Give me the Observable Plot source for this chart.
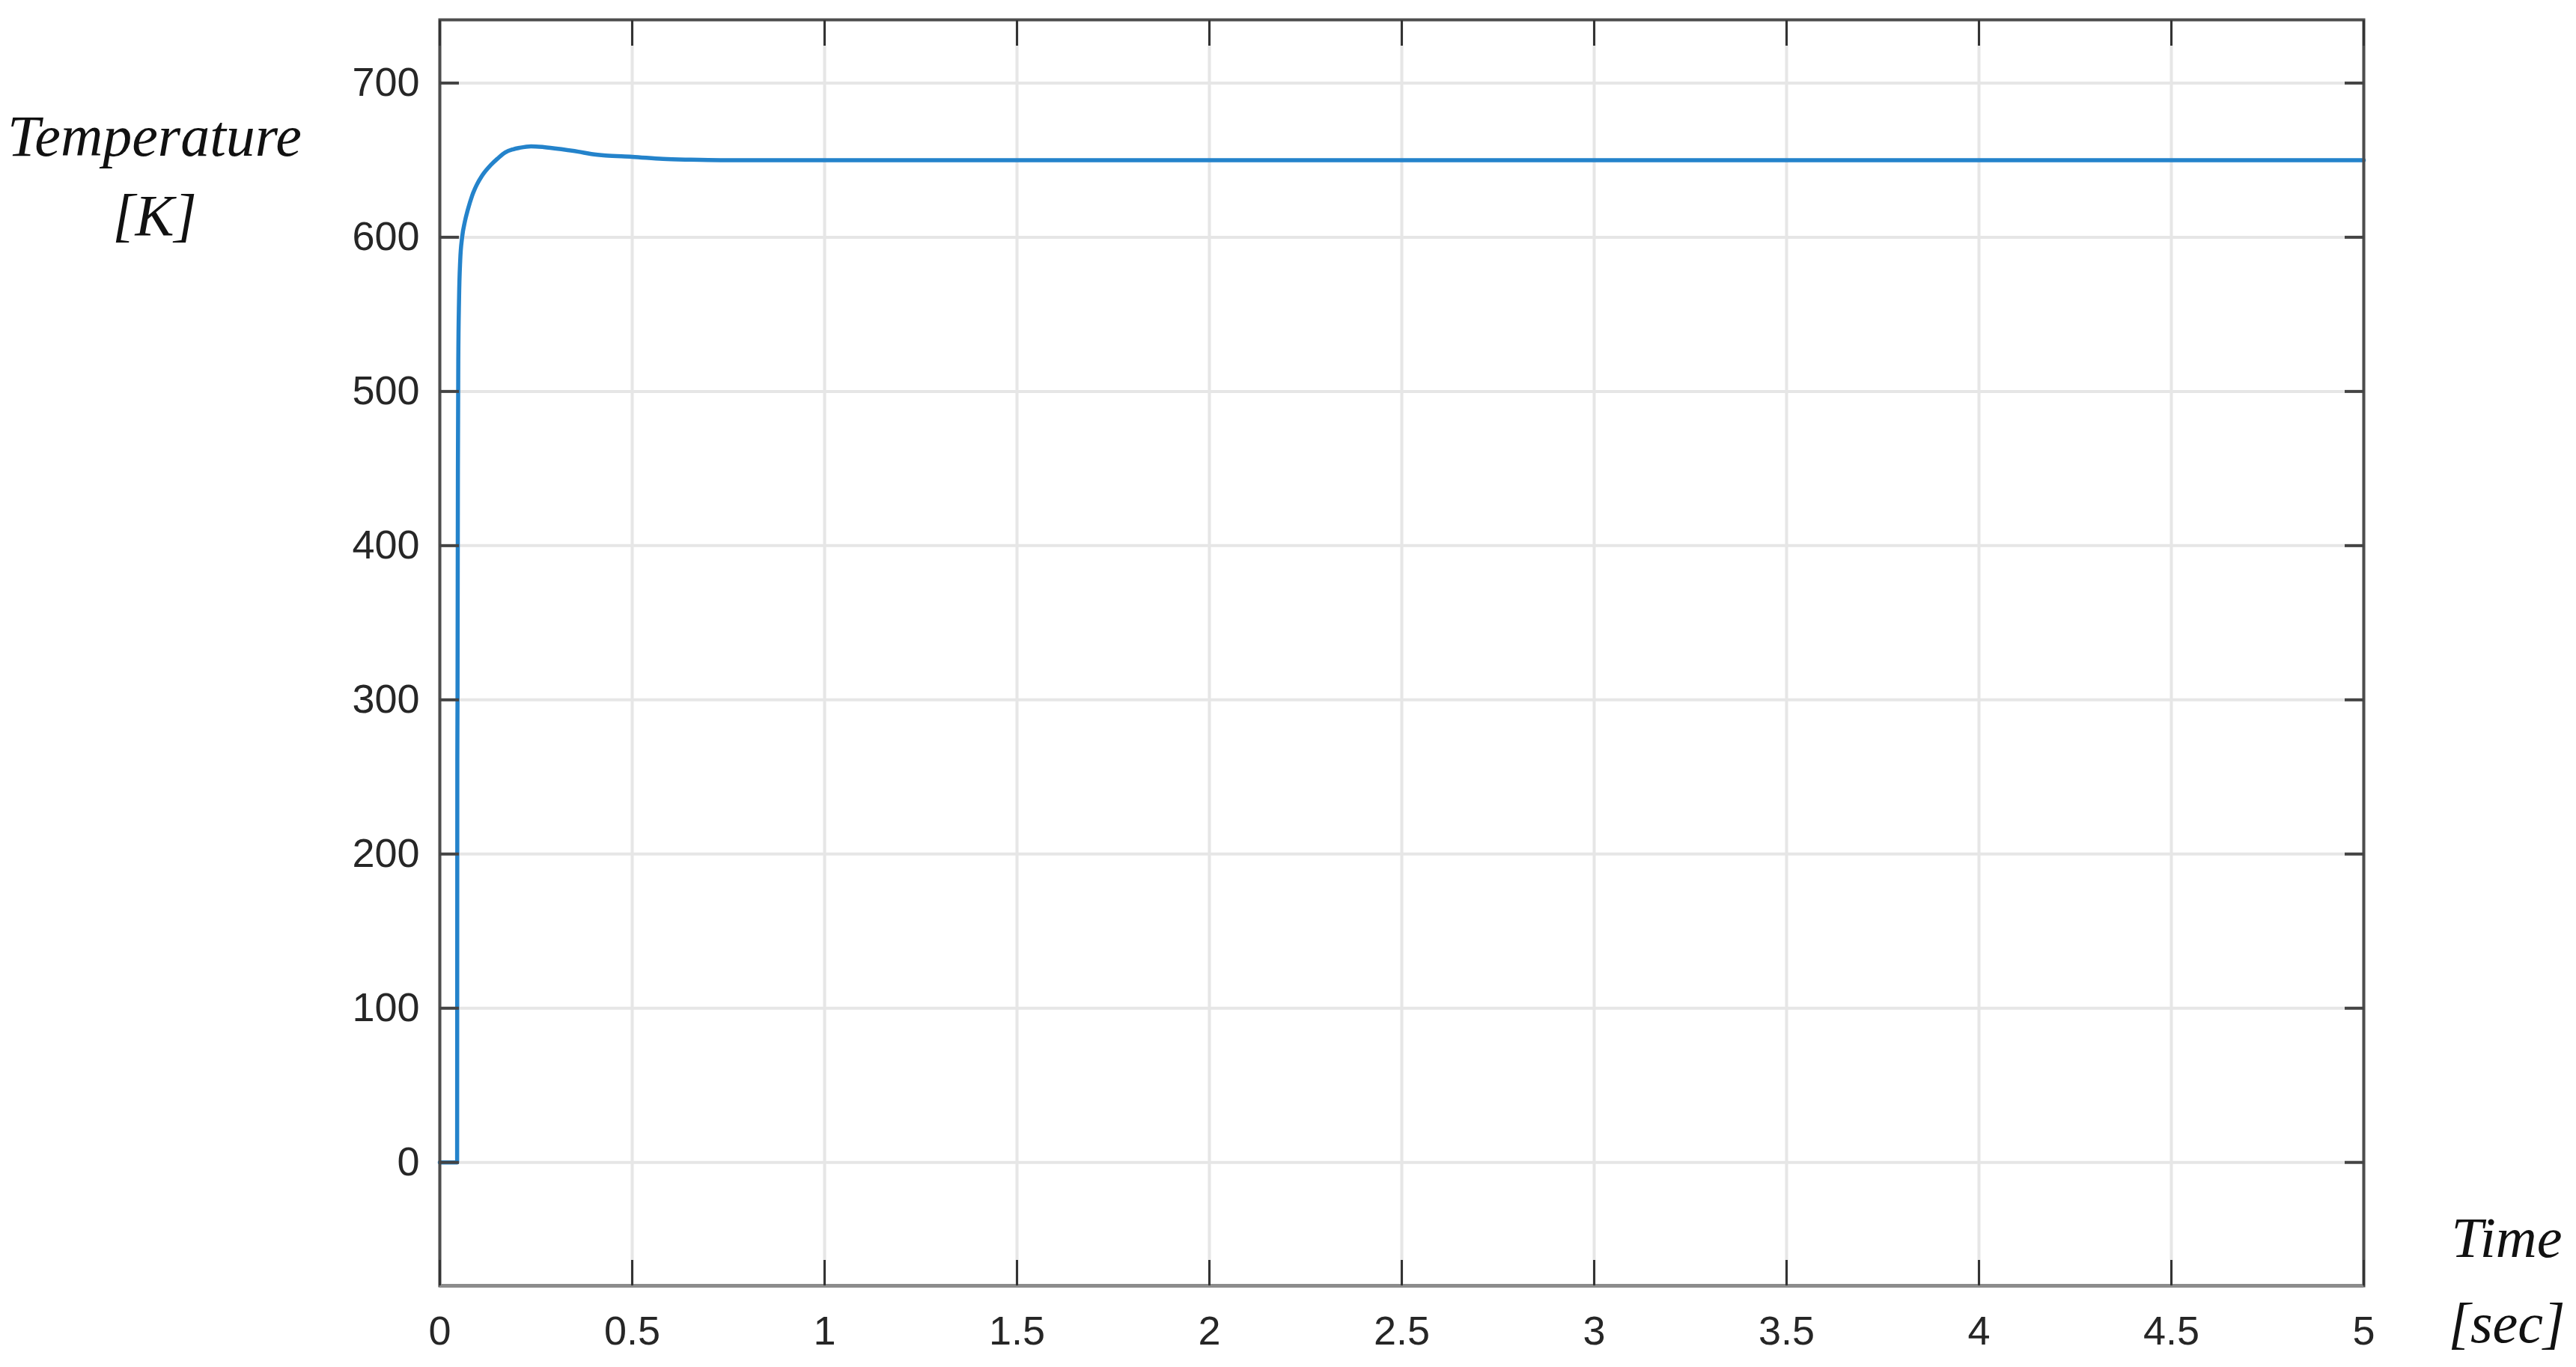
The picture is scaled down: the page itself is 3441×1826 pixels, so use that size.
<!DOCTYPE html>
<html><head><meta charset="utf-8">
<script src="https://cdn.jsdelivr.net/npm/d3@7"></script>
<script src="https://cdn.jsdelivr.net/npm/@observablehq/plot@0.6"></script>
<style>html,body{margin:0;padding:0;background:#fff;overflow:hidden;}</style>
</head><body><div id="chart"></div>
<script>
const timeSec = [0, 0.045, 0.0455, 0.046, 0.047, 0.048, 0.05, 0.053, 0.058, 0.065, 0.073, 0.084, 0.096, 0.11, 0.133, 0.15, 0.17, 0.19, 0.207, 0.237, 0.27, 0.319, 0.36, 0.394, 0.431, 0.5, 0.58, 0.65, 0.73, 0.9, 1.5, 2, 3, 4, 5];
const temperatureK = [0, 0, 260, 300, 450, 520, 560, 585, 600, 610, 618, 627, 634, 640, 647, 651, 655, 657, 658, 659, 658.5, 657, 655.5, 654, 653, 652.2, 650.8, 650.3, 650, 650, 650, 650, 650, 650, 650];
const xTicks = [0, 0.5, 1, 1.5, 2, 2.5, 3, 3.5, 4, 4.5, 5];
const yTicks = [0, 100, 200, 300, 400, 500, 600, 700];
const xDomain = [0, 5];
const yDomain = [-80, 741];
const yLabel = ["Temperature\n[K]"];
const xLabel = ["Time\n[sec]"];

const data = timeSec.map((t, i) => ({t, T: temperatureK[i]}));
const blank = () => "";
const plain = d => String(d);
const serif = "'Liberation Serif', 'DejaVu Serif', serif";

const chart = Plot.plot({
  width: 3441, height: 1826,
  marginLeft: 587, marginRight: 284, marginTop: 26, marginBottom: 109,
  style: {background: "#fff", fontFamily: "'Liberation Sans', Arial, sans-serif", color: "#262626"},
  x: {domain: xDomain},
  y: {domain: yDomain},
  marks: [
    Plot.gridX(xTicks, {stroke: "#e6e6e6", strokeOpacity: 1, strokeWidth: 4}),
    Plot.gridY(yTicks, {stroke: "#e6e6e6", strokeOpacity: 1, strokeWidth: 4}),
    Plot.line(data, {x: "t", y: "T", curve: "monotone-x", stroke: "#2483cb", strokeWidth: 5.5}),
    Plot.frame({stroke: "#4d4d4d", strokeWidth: 4}),
    Plot.ruleY([yDomain[0]], {stroke: "#8c8c8c", strokeWidth: 5}),
    Plot.axisX(xTicks, {anchor: "bottom", tickSize: -34, tickFormat: blank, label: null, stroke: "#333", strokeWidth: 3}),
    Plot.axisX(xTicks, {anchor: "top", tickSize: -34, tickFormat: blank, label: null, stroke: "#333", strokeWidth: 3}),
    Plot.axisY(yTicks, {anchor: "left", tickSize: -26, tickFormat: blank, label: null, stroke: "#444", strokeWidth: 4}),
    Plot.axisY(yTicks, {anchor: "right", tickSize: -26, tickFormat: blank, label: null, stroke: "#444", strokeWidth: 4}),
    Plot.axisX(xTicks, {anchor: "bottom", tickSize: 0, tickPadding: 40, fontSize: 54, label: null, fill: "#262626", tickFormat: plain}),
    Plot.axisY(yTicks, {anchor: "left", tickSize: 0, tickPadding: 27, fontSize: 54, label: null, fill: "#262626", tickFormat: plain}),
    Plot.text(yLabel, {text: d => d, frameAnchor: "top-left", dx: -381, dy: 287, lineAnchor: "bottom", lineHeight: 1.35, textAnchor: "middle", fontSize: 78, fontStyle: "italic", fontFamily: serif, fill: "#111"}),
    Plot.text(xLabel, {text: d => d, frameAnchor: "bottom-right", dx: 191, dy: 75, lineAnchor: "bottom", lineHeight: 1.5, textAnchor: "middle", fontSize: 76, fontStyle: "italic", fontFamily: serif, fill: "#111"})
  ]
});
document.getElementById("chart").appendChild(chart);
</script>
</body></html>
